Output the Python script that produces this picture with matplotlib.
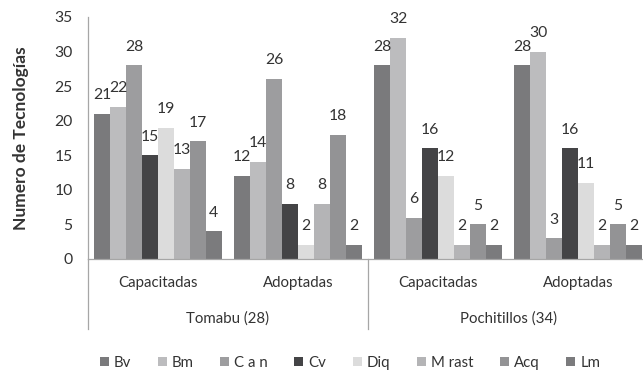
import matplotlib
matplotlib.use("Agg")
import matplotlib.pyplot as plt
import matplotlib.transforms as mtransforms
from matplotlib.patches import Patch
import numpy as np

plt.rcParams['font.family'] = ['Lato', 'DejaVu Sans']

# Data
categories = ["Capacitadas", "Adoptadas", "Capacitadas", "Adoptadas"]
groups = ["Tomabu (28)", "Pochitillos (34)"]
series_names = ["Bv", "Bm", "C a n", "Cv", "Diq", "M rast", "Acq", "Lm"]
bv = [21, 12, 28, 28]
bm = [22, 14, 32, 30]
can = [28, 26, 6, 3]
cv = [15, 8, 16, 16]
diq = [19, 2, 12, 11]
mrast = [13, 8, 2, 2]
acq = [17, 18, 5, 5]
lm = [4, 2, 2, 2]
series_values = [bv, bm, can, cv, diq, mrast, acq, lm]
yticks = [0, 5, 10, 15, 20, 25, 30, 35]

colors = ["#7a7a7c", "#bcbcbe", "#9d9d9f", "#444446",
          "#dcdcdc", "#b4b4b6", "#939395", "#7b7b7d"]
text_color = "#333333"
axis_color = "#a6a6a6"

W, H = 643, 375
fig = plt.figure(figsize=(W / 100, H / 100), dpi=100)
ax = fig.add_axes([88 / W, (H - 259) / H, (648 - 88) / W, 242 / H])

x = np.arange(len(categories))
bar_w = 0.114
n = len(series_values)
for i, (vals, col) in enumerate(zip(series_values, colors)):
    pos = x + (i - (n - 1) / 2) * bar_w
    bars = ax.bar(pos, vals, width=bar_w, color=col, edgecolor='none')
    for b, v in zip(bars, vals):
        ax.annotate(str(v), (b.get_x() + b.get_width() / 2, v),
                    xytext=(0, 13.5), textcoords='offset points',
                    ha='center', va='center', fontsize=11.3, color=text_color)

ax.set_xlim(-0.5, len(categories) - 0.5)
ax.set_ylim(0, 35)
ax.set_yticks(yticks)
ax.set_yticklabels([str(t) for t in yticks], fontsize=11.3, color=text_color)
ax.tick_params(axis='y', length=0, pad=11)
ax.set_xticks([])

for side in ('top', 'right'):
    ax.spines[side].set_visible(False)
for side in ('left', 'bottom'):
    ax.spines[side].set_color(axis_color)
    ax.spines[side].set_linewidth(0.9)

# Two-level category axis
trans = mtransforms.blended_transform_factory(ax.transData, ax.transAxes)
for xi, lab in zip(x, categories):
    ax.text(xi, -0.099, lab, transform=trans, ha='center', va='center',
            fontsize=10.8, color=text_color)
for gi, g in enumerate(groups):
    ax.text(2 * gi + 0.5, -0.244, g, transform=trans, ha='center', va='center',
            fontsize=10.8, color=text_color)
for xb in [-0.5, 1.5, 3.5]:
    ax.plot([xb, xb], [0, -0.289], transform=trans, color=axis_color,
            lw=0.9, clip_on=False)

fig.text(21 / W, 1 - 138 / H, "Numero de Tecnologías", rotation=90,
         ha='center', va='center', fontsize=12.5, fontweight='bold',
         color=text_color)

handles = [Patch(facecolor=c, edgecolor='none') for c in colors]
fig.legend(handles, series_names, loc='center', ncol=8,
           bbox_to_anchor=(350 / W, 1 - 363 / H), frameon=False,
           fontsize=10.8, handlelength=0.6, handleheight=0.6,
           handletextpad=0.35, columnspacing=1.75, labelcolor=text_color)

fig.savefig("out.png", dpi=100)
